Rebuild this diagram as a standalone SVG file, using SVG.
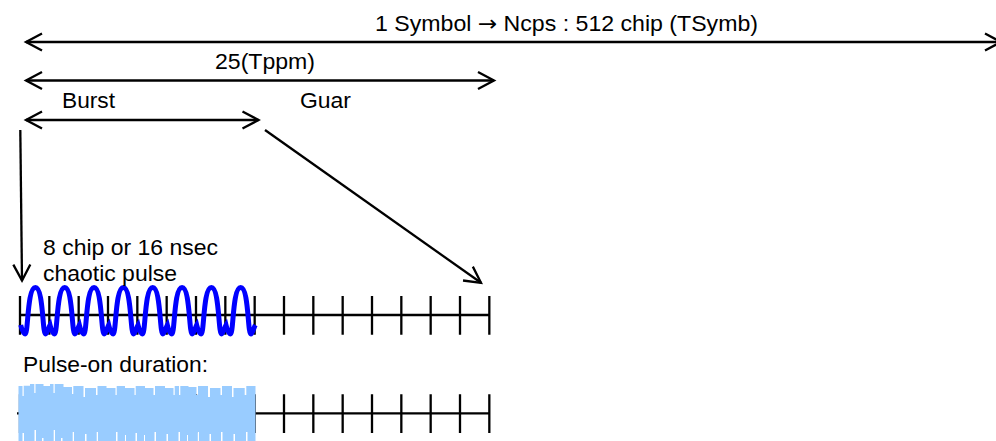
<svg xmlns="http://www.w3.org/2000/svg" width="996" height="441" viewBox="0 0 996 441">
<style>
text{font-family:"Liberation Sans",Arial,sans-serif;font-size:21.5px;fill:#000}
.c{fill:none;stroke:#000;stroke-width:2.3}
.arr{marker-end:url(#open);marker-start:url(#openS)}
.one{marker-end:url(#open)}
</style>
<defs>
<marker id="open" markerUnits="userSpaceOnUse" markerWidth="24" markerHeight="24" refX="18" refY="12" orient="auto"><polyline points="2,3.5 18,12 2,20.5" fill="none" stroke="#000" stroke-width="2.3"/></marker>
<marker id="openS" markerUnits="userSpaceOnUse" markerWidth="24" markerHeight="24" refX="6" refY="12" orient="auto"><polyline points="22,3.5 6,12 22,20.5" fill="none" stroke="#000" stroke-width="2.3"/></marker>
<path id="ticks" d="M20 0v38.7M49.33 0v38.7M78.67 0v38.7M108 0v38.7M137.33 0v38.7M166.67 0v38.7M196 0v38.7M225.33 0v38.7M254.67 0v38.7M284 0v38.7M313.33 0v38.7M342.67 0v38.7M372 0v38.7M401.33 0v38.7M430.67 0v38.7M460 0v38.7M489.33 0v38.7" class="c"/>
</defs>
<rect width="996" height="441" fill="#fff"/>
<g id="connectors">
<line class="c arr" x1="26" y1="42" x2="1001" y2="42"/>
<line class="c arr" x1="26" y1="80.5" x2="494" y2="80.5"/>
<line class="c arr" x1="26" y1="120" x2="258.5" y2="120"/>
<line class="c one" x1="20.3" y1="130" x2="22" y2="280.5"/>
<line class="c one" x1="265" y1="130" x2="481" y2="282.8"/>
</g>
<g id="row-chaotic">
<use href="#ticks" y="296"/>
<line class="c" x1="20" y1="315" x2="489.3" y2="315"/>
<path id="pulse" fill="none" stroke="#00f" stroke-width="5" d="M20.7 325c1.5 6 3 9 4.5 9c3 0 2-46.5 10.2-46.5c8 0 7 46.5 10.1 46.5c1.7 0 3-6.5 4.53-9c1.5 6 3 9 4.5 9c3 0 2-46.5 10.2-46.5c8 0 7 46.5 10.1 46.5c1.7 0 3-6.5 4.53-9c1.5 6 3 9 4.5 9c3 0 2-46.5 10.2-46.5c8 0 7 46.5 10.1 46.5c1.7 0 3-6.5 4.53-9c1.5 6 3 9 4.5 9c3 0 2-46.5 10.2-46.5c8 0 7 46.5 10.1 46.5c1.7 0 3-6.5 4.53-9c1.5 6 3 9 4.5 9c3 0 2-46.5 10.2-46.5c8 0 7 46.5 10.1 46.5c1.7 0 3-6.5 4.53-9c1.5 6 3 9 4.5 9c3 0 2-46.5 10.2-46.5c8 0 7 46.5 10.1 46.5c1.7 0 3-6.5 4.53-9c1.5 6 3 9 4.5 9c3 0 2-46.5 10.2-46.5c8 0 7 46.5 10.1 46.5c1.7 0 3-6.5 4.53-9c1.5 6 3 9 4.5 9c3 0 2-46.5 10.2-46.5c8 0 7 46.5 10.1 46.5c1.7 0 3-6.5 4.53-9"/>
</g>
<g id="row-duration">
<use href="#ticks" y="394.3"/>
<line class="c" x1="17" y1="413.3" x2="489.3" y2="413.3"/>
<path id="pulse-on" fill="#9cf" d="M18.5 441V386H22.5V396H23.7V385.7H30V384H34.3V393H35.5V384H43.5V386H50V384H53.5V393H54.7V384H63.5V387H72V394H73.3V386H83.5V397H85V388H96V395H97.5V386H106.5V388H115.5V395H116.7V386H125V388H134.5V395H135.7V386H145V388H153.5V395H155V386H165V388H173.5V395H174.7V386H179V395H180.3V386H188.5V387H196.5V395H198V386H208V397H210V388H220.5V395H222V386H232V397H233.5V388H244.7V395H246.3V386H255.5V441H247.5V432H246V441H235V434H233.5V441H222.5V432H221V441H211V434H209.5V441H199V432H197.8V441H188V435H187V441H180V432H178.5V441H168V434H166.5V441H156V432H154.5V441H145V435H144V441H137V433H135.5V441H126V435H125V441H117.5V432H116V441H98V432H96.7V441H86.5V434H85V441H74V432H72.7V441H62.5V438H61V441H55V430H53.7V441H43.5V438H42V441H36V430H34.5V441H24V433H22.5V441Z"/>
</g>
<g id="labels">
<text x="375" y="31" textLength="383" lengthAdjust="spacingAndGlyphs">1 Symbol <tspan font-family="DejaVu Sans">→</tspan> Ncps : 512 chip (TSymb)</text>
<text x="215" y="69" textLength="100" lengthAdjust="spacingAndGlyphs">25(Tppm)</text>
<text x="62" y="107.5" textLength="53" lengthAdjust="spacingAndGlyphs">Burst</text>
<text x="300" y="108" textLength="51" lengthAdjust="spacingAndGlyphs">Guar</text>
<text x="43" y="255" textLength="175" lengthAdjust="spacingAndGlyphs">8 chip or 16 nsec</text>
<text x="43" y="281" textLength="134" lengthAdjust="spacingAndGlyphs">chaotic pulse</text>
<text x="23" y="371.7" textLength="185" lengthAdjust="spacingAndGlyphs">Pulse-on duration:</text>
</g>
</svg>
